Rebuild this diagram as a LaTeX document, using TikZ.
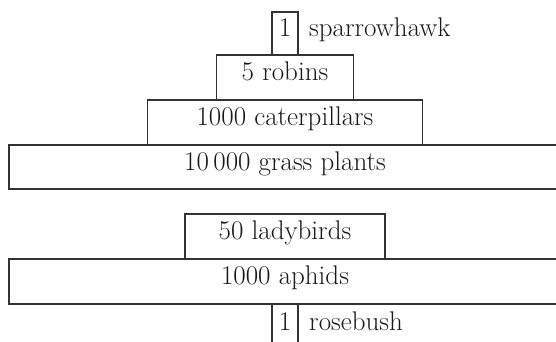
\documentclass[tikz,border=0pt]{standalone}
\begin{document}
\begin{tikzpicture}[x=1pt,y=-1pt,
  txt/.style={font=\fontsize{27}{31}\selectfont, text height=0.82em, text depth=0.2em, text=black!90},
  level/.style={txt, draw=black!80, line width=1.3pt, inner sep=0pt, outer sep=0pt, anchor=center},
  tag/.style={txt, inner sep=0pt, anchor=west}]
  \useasboundingbox (0,0) rectangle (556,342);
  \clip (0,0) rectangle (556,342);
  % grassland pyramid of numbers
  \node[level, minimum width=552, minimum height=44] (grass) at (285,167) {10\,000 grass plants};
  \node[level, minimum width=275, minimum height=45] (cater) at (285,122.5) {1000 caterpillars};
  \node[level, minimum width=137, minimum height=45] (robins) at (285,77.5) {5 robins};
  \node[level, minimum width=26, minimum height=43] (hawk) at (285,33.5) {1};
  \node[tag] (hawklbl) at ([xshift=11pt]hawk.east) {sparrowhawk};
  % rosebush pyramid of numbers
  \node[level, minimum width=552, minimum height=45] (aphids) at (285,281.5) {1000 aphids};
  \node[level, minimum width=200, minimum height=45] (lady) at (285,236.5) {50 ladybirds};
  \node[level, minimum width=26, minimum height=46] (rose) at (285,327) {1};
  \node[tag] (roselbl) at ([xshift=11pt]rose.east) {rosebush};
\end{tikzpicture}
\end{document}
